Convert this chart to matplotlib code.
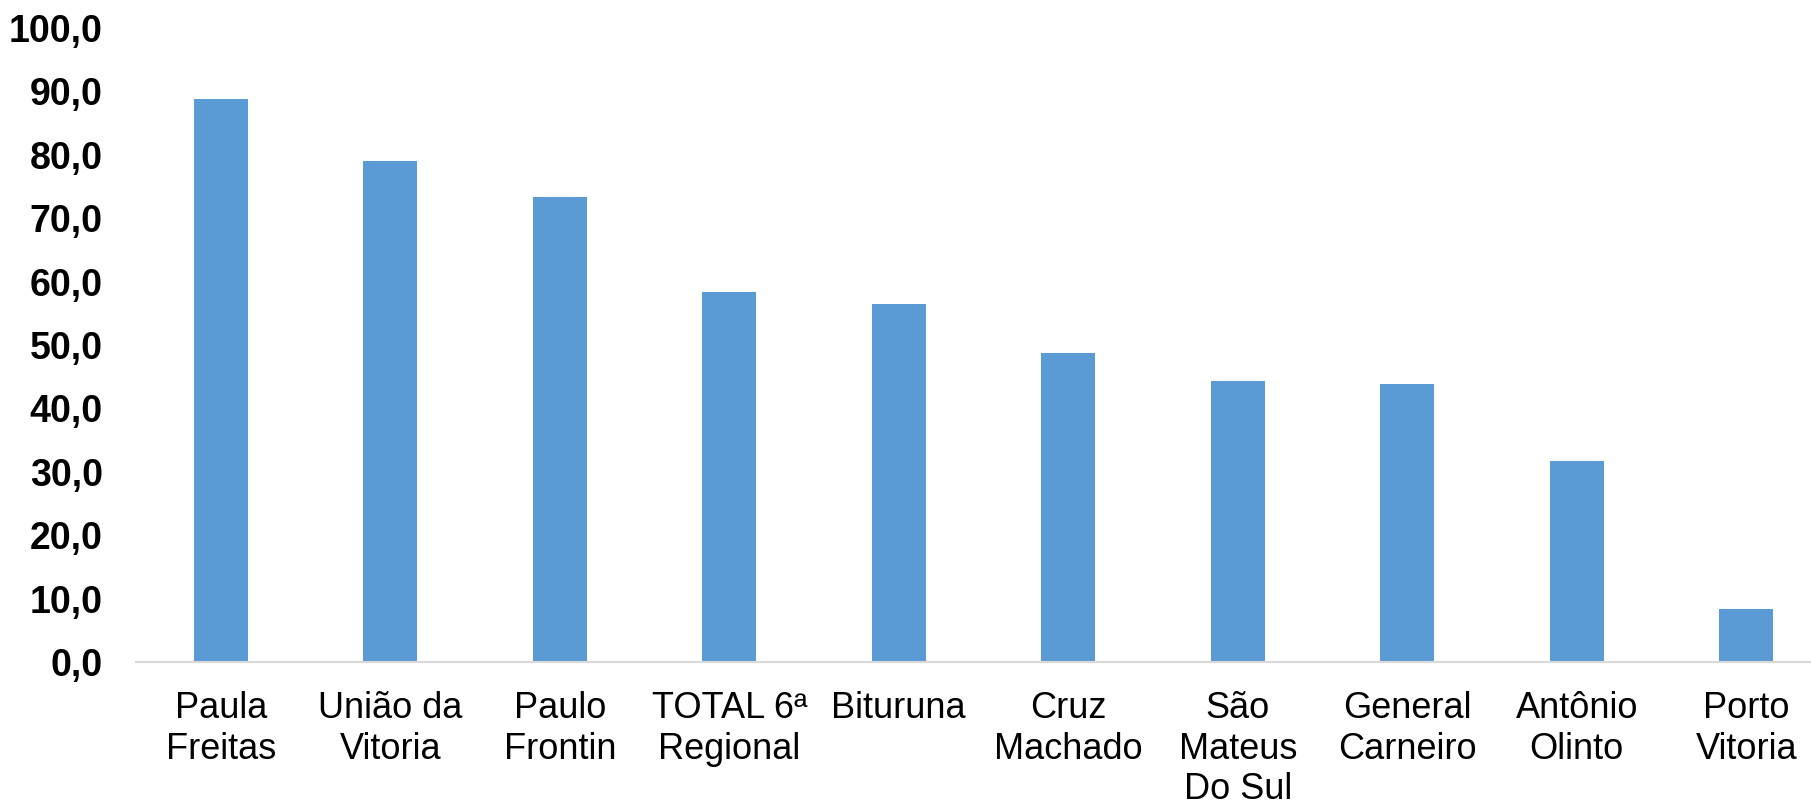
import matplotlib
matplotlib.use("Agg")
import matplotlib.pyplot as plt
from matplotlib.ticker import FuncFormatter, MultipleLocator

plt.rcParams['font.family'] = ['Liberation Sans', 'DejaVu Sans']

municipios = ['Paula\nFreitas', 'União da\nVitoria', 'Paulo\nFrontin', 'TOTAL 6ª\nRegional',
              'Bituruna', 'Cruz\nMachado', 'São\nMateus\nDo Sul', 'General\nCarneiro',
              'Antônio\nOlinto', 'Porto\nVitoria']
valores = [88.8, 79.0, 73.3, 58.4, 56.4, 48.7, 44.3, 43.8, 31.7, 8.3]

fig = plt.figure(figsize=(18.11, 8.05), dpi=100)
ax = fig.add_axes([0.0751, 0.1776, 0.936, 0.7876])

x = range(len(valores))
ax.bar(x, valores, width=0.32, color='#5B9BD5')

ax.set_xlim(-0.5, len(valores) - 0.5)
ax.set_ylim(0, 100)
ax.yaxis.set_major_locator(MultipleLocator(10))
ax.yaxis.set_major_formatter(FuncFormatter(lambda v, p: f'{v:.1f}'.replace('.', ',')))

ax.set_xticks(list(x))
ax.set_xticklabels(municipios, fontsize=26, linespacing=1.2)
for lab in ax.get_yticklabels():
    lab.set_fontweight('bold')
ax.tick_params(axis='y', length=0, pad=24, labelsize=27)
ax.tick_params(axis='x', length=0, pad=21)

for s in ['top', 'right', 'left']:
    ax.spines[s].set_visible(False)
ax.spines['bottom'].set_color('#D9D9D9')
ax.spines['bottom'].set_linewidth(1.5)

fig.savefig('out.png', dpi=100)
